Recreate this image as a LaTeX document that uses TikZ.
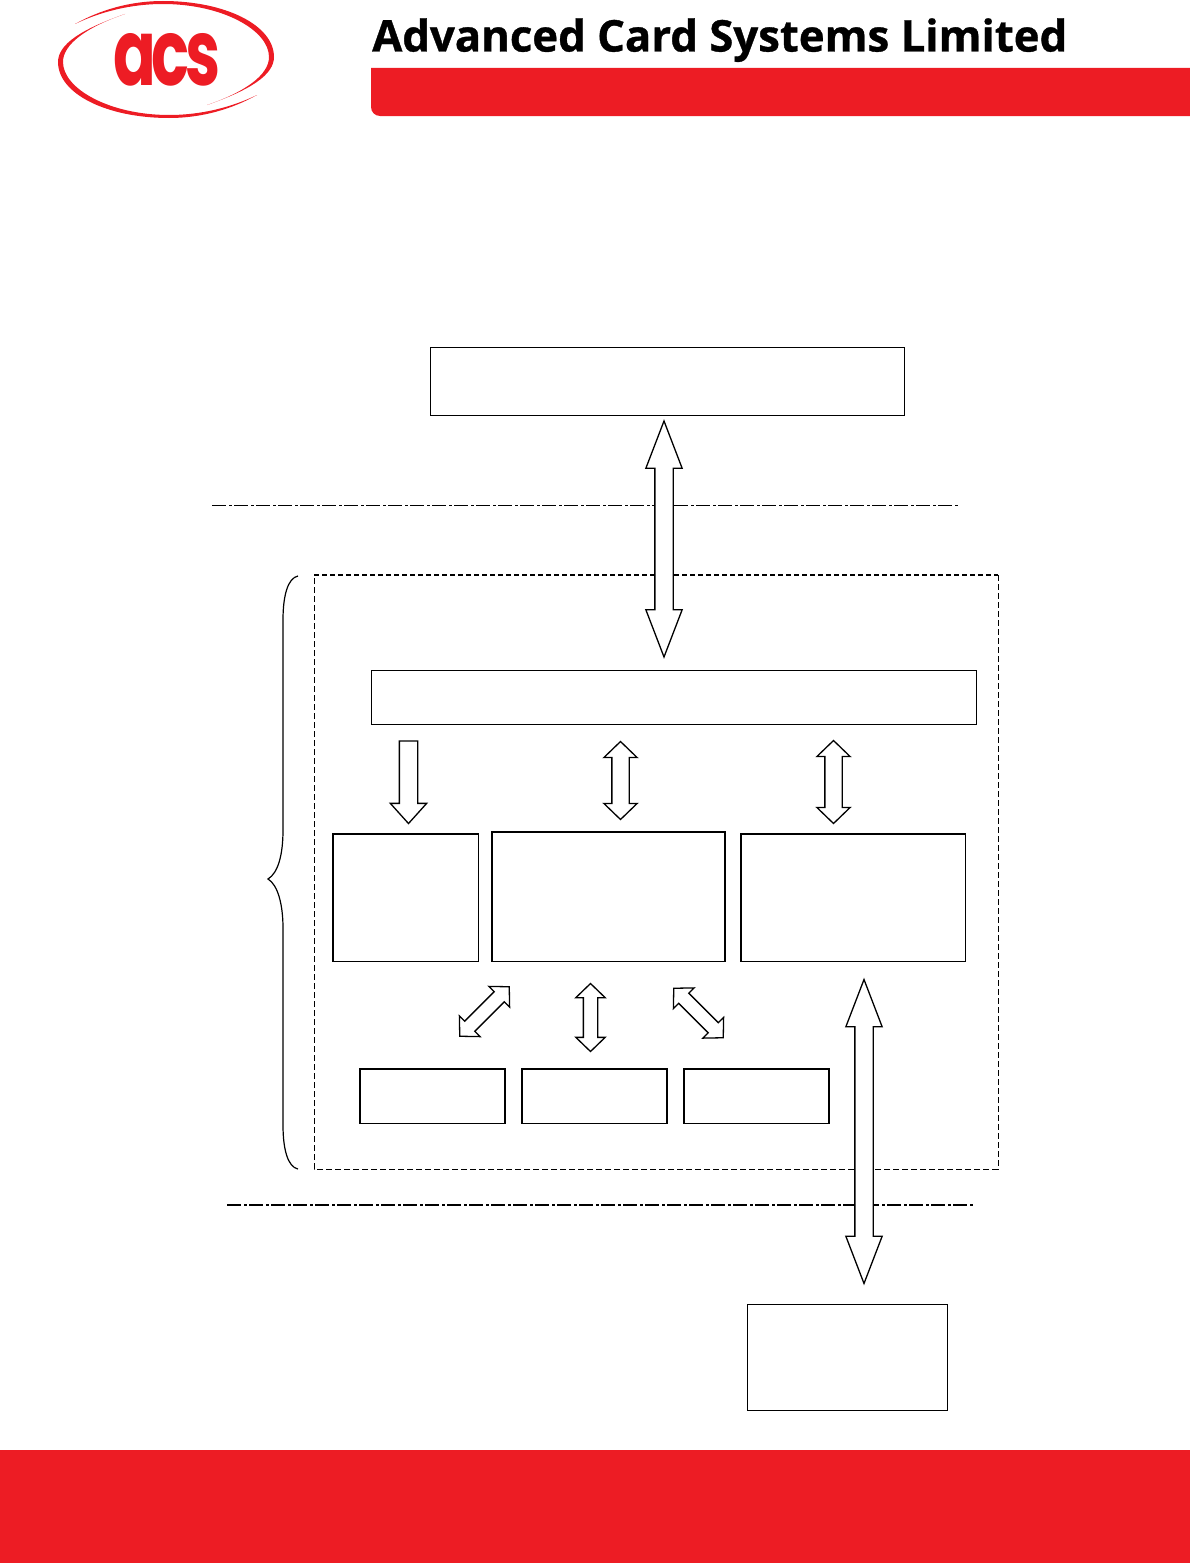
\documentclass[tikz,border=0pt]{standalone}
\usepackage{fontspec}
\newfontfamily\titlefont{Open Sans}[BoldFeatures={FakeBold=0.8}]
\newfontfamily\logofont{Poppins}
\usetikzlibrary{shapes,arrows}
\definecolor{acsred}{HTML}{ED1C24}
\tikzset{
    box/.style={draw=black, line width=1.2pt},
    bigarrow/.style={double arrow, draw=black, fill=white, line width=1.3pt, inner xsep=0pt, inner ysep=8.5pt, minimum width=0pt, double arrow head extend=9pt, double arrow tip angle=42},
    midarrow/.style={double arrow, draw=black, fill=white, line width=1.3pt, inner xsep=0pt, inner ysep=8pt, minimum width=0pt, double arrow head extend=8pt, double arrow tip angle=92},
    smallarrow/.style={double arrow, draw=black, fill=white, line width=1.3pt, inner xsep=0pt, inner ysep=6.5pt, minimum width=0pt, double arrow head extend=7.5pt, double arrow tip angle=92},
    downarrow/.style={single arrow, draw=black, fill=white, line width=1.3pt, inner xsep=0pt, inner ysep=8.5pt, minimum width=0pt, single arrow head extend=9pt, single arrow tip angle=84}
}

\begin{document}
\begin{tikzpicture}[x=1pt, y=-1pt]

    \useasboundingbox (0, 0) rectangle (1190, 1563);

    \coordinate (TA) at ( 430,  347);
    \coordinate (TC) at ( 904.5,  415.5);
    \coordinate (BA) at ( 371,  670);
    \coordinate (BC) at ( 976.5,  724.5);
    \coordinate (LA) at ( 333,  834);
    \coordinate (LC) at ( 478.5,  961.5);
    \coordinate (MA) at ( 492,  832);
    \coordinate (MC) at ( 725,  961.5);
    \coordinate (RA) at ( 741,  834);
    \coordinate (RC) at ( 965.5,  961.5);
    \coordinate (S1A) at ( 360, 1069);
    \coordinate (S1C) at ( 505, 1123.5);
    \coordinate (S2A) at ( 522, 1069);
    \coordinate (S2C) at ( 667, 1123.5);
    \coordinate (S3A) at ( 684, 1069);
    \coordinate (S3C) at ( 829, 1123.5);
    \coordinate (CA) at ( 747, 1304);
    \coordinate (CC) at ( 947, 1410.5);

    \coordinate (DA) at ( 314,  575);
    \coordinate (DB) at ( 998,  575);
    \coordinate (DC) at ( 998, 1169);
    \coordinate (DD) at ( 314, 1169);

    \coordinate (UL) at ( 212,  505.5);
    \coordinate (UR) at ( 958,  505.5);
    \coordinate (KL) at ( 227, 1205);
    \coordinate (KR) at ( 973, 1205);

    % header and footer
    \fill [acsred] (1190, 68) -- (371, 68) [rounded corners=9pt] -- (371, 116) [sharp corners] -- (1190, 116) -- cycle;
    \fill [acsred] (0, 1450) rectangle (1190, 1563);
    \node (title) [anchor=base west, inner sep=0pt] at (372, 51.5) {\resizebox{695pt}{!}{\titlefont\bfseries Advanced Card Systems Limited}};

    % logo
    \fill [acsred] (75, 24) .. controls (100, 10) and (130, 1) .. (163, 1) .. controls (225, 1) and (274, 25) .. (274, 57) .. controls (274, 75) and (250, 90) .. (207, 105) .. controls (245, 92) and (269, 75) .. (269, 57) .. controls (269, 30) and (222, 4) .. (163, 4) .. controls (130, 4) and (100, 12) .. (75, 24) -- cycle;
    \fill [acsred] (257, 95) .. controls (232, 109) and (202, 118) .. (169, 118) .. controls (107, 118) and (58, 94) .. (58, 62) .. controls (58, 44) and (82, 29) .. (125, 14) .. controls (87, 27) and (63, 44) .. (63, 62) .. controls (63, 89) and (110, 115) .. (169, 115) .. controls (202, 115) and (232, 107) .. (257, 95) -- cycle;
    \node (logo) [anchor=base west, inner sep=0pt, text=acsred] at (113, 85) {\resizebox{107pt}{52pt}{\logofont\bfseries a\kern-.07em c\kern-.07em s}};

    \draw [box, line width=1pt] (TA) rectangle (TC);
    \draw [box, line width=1pt] (BA) rectangle (BC);
    \draw [box] (LA) rectangle (LC);
    \draw [box, line width=1.8pt] (MA) rectangle (MC);
    \draw [box] (RA) rectangle (RC);
    \draw [box] (S1A) rectangle (S1C);
    \draw [box] (S2A) rectangle (S2C);
    \draw [box] (S3A) rectangle (S3C);
    \draw [box, line width=1pt] (CA) rectangle (CC);

    \draw [dash pattern=on 5pt off 3pt, line width=1.5pt] (DA) -- (DB);
    \draw [dash pattern=on 6pt off 3pt, line width=1pt] (DB) -- (DC) -- (DD) -- (DA);

    \draw [dash pattern=on 14pt off 3pt on 3pt off 2pt, line width=1pt] (UL) -- (UR);
    \draw [dash pattern=on 14pt off 3pt on 3pt off 2pt, line width=1.6pt] (KL) -- (KR);

    % brace
    \draw [line width=1.2pt] (298, 576) .. controls (288, 578) and (283, 595) .. (283, 620) -- (283, 830) .. controls (283, 855) and (278, 873) .. (268, 879) .. controls (278, 885) and (283, 905) .. (283, 928) -- (283, 1125) .. controls (283, 1150) and (288, 1167) .. (298, 1169);

    % arrows
    \node (hostlink) [bigarrow, minimum height=236pt, rotate=90] at (664, 539) {};
    \node (cardlink) [bigarrow, minimum height=304pt, rotate=90] at (864, 1131.5) {};
    \node (downlink) [downarrow, minimum height=82.5pt, rotate=-90, anchor=tip] at (408.5, 824.5) {};
    \node (midlink) [midarrow, minimum height=78pt, rotate=90] at (620.5, 780.5) {};
    \node (rightlink) [midarrow, minimum height=83pt, rotate=90] at (833.5, 782) {};
    \node (smallleft) [smallarrow, minimum height=70pt, rotate=45] at (484.5, 1011.5) {};
    \node (smallmid) [smallarrow, minimum height=68pt, rotate=90] at (590.5, 1017.5) {};
    \node (smallright) [smallarrow, minimum height=70pt, rotate=-45] at (698.5, 1013) {};

\end{tikzpicture}
\end{document}
